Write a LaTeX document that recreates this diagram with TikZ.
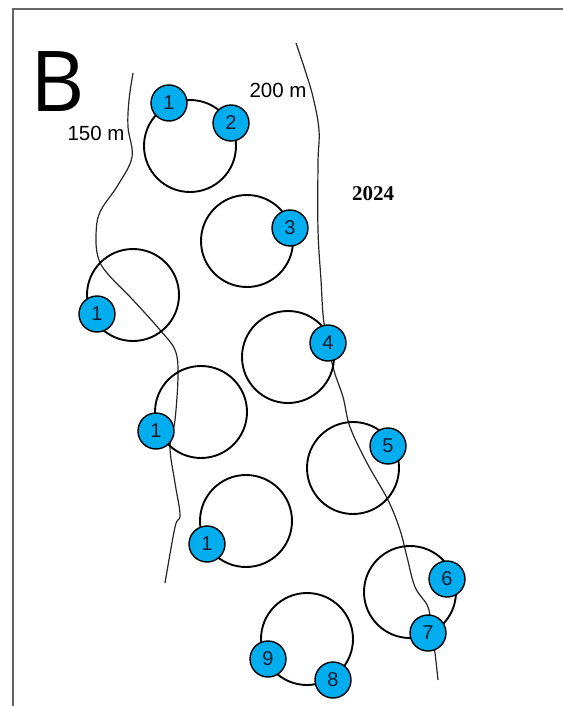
\documentclass[tikz,border=0pt]{standalone}
\usepackage{fontspec}
\setmainfont{Liberation Sans}
\newfontfamily\yearfont{Liberation Serif}
\newfontfamily\panelfont{Open Sans}
\definecolor{cyanB}{RGB}{0,174,239}
\definecolor{digit}{RGB}{20,28,48}
\begin{document}
\begin{tikzpicture}[x=1pt,y=-1pt,
  ring/.style={circle,draw=black,line width=1.9pt,minimum size=92pt,inner sep=0pt},
  marker/.style={circle,draw=black,line width=1.4pt,fill=cyanB,minimum size=36pt,inner sep=0pt,text=digit,font=\fontsize{20}{20}\selectfont},
  contour/.style={draw=black!85,line width=1.2pt},
  lbl/.style={inner sep=0pt,font=\fontsize{20.5}{20.5}\selectfont}]
\useasboundingbox (0,0) rectangle (563,706);
\fill[white] (0,0) rectangle (563,706);
\draw[gray!80!black, line width=2pt] (563,9) -- (12.5,9) -- (12.5,706);

% contour lines
\draw[contour] plot[smooth, tension=0.6] coordinates {(133,73) (129,100) (128,127) (132,157) (118,185) (100,212) (96,235) (98,257) (107,273) (133,300) (160,330) (175,350) (178,375) (175,420) (170,447) (175,483) (180,515) (175,527) (165,583)};
\draw[contour] plot[smooth, tension=0.6] coordinates {(296,43) (305,70) (313,97) (319,130) (318,163) (318,230) (321,280) (324,323) (333,367) (343,397) (350,427) (367,463) (388,500) (400,530) (407,557) (415,587) (428,607) (432,632) (435,653) (438,680)};

% rings
\node[ring] (r1) at (190,146) {};
\node[ring] (r2) at (247,241) {};
\node[ring] (r3) at (133,295) {};
\node[ring] (r4) at (288,357) {};
\node[ring] (r5) at (201,412) {};
\node[ring] (r6) at (353,468) {};
\node[ring] (r7) at (246,521) {};
\node[ring] (r8) at (410,592) {};
\node[ring] (r9) at (307,639) {};

% markers
\node[marker] (m1a) at (169,103) {1};
\node[marker] (m2) at (231,123) {2};
\node[marker] (m3) at (290,228) {3};
\node[marker] (m1b) at (97,314) {1};
\node[marker] (m4) at (328,343) {4};
\node[marker] (m1c) at (156,431) {1};
\node[marker] (m5) at (388,446) {5};
\node[marker] (m1d) at (207,544) {1};
\node[marker] (m6) at (447,579) {6};
\node[marker] (m7) at (428,633) {7};
\node[marker] (m9) at (268,659) {9};
\node[marker] (m8) at (333,680) {8};

% labels
\node[lbl] (l150) at (96,133) {150 m};
\node[lbl] (l200) at (278,90) {200 m};
\node[inner sep=0pt,font=\yearfont\bfseries\fontsize{21}{21}\selectfont] (yr) at (373,194) {2024};
\node[inner sep=0pt,text height=60pt,text depth=0pt,font=\panelfont\fontsize{84}{84}\selectfont] (pB) at (58,82) {B};
\end{tikzpicture}
\end{document}
